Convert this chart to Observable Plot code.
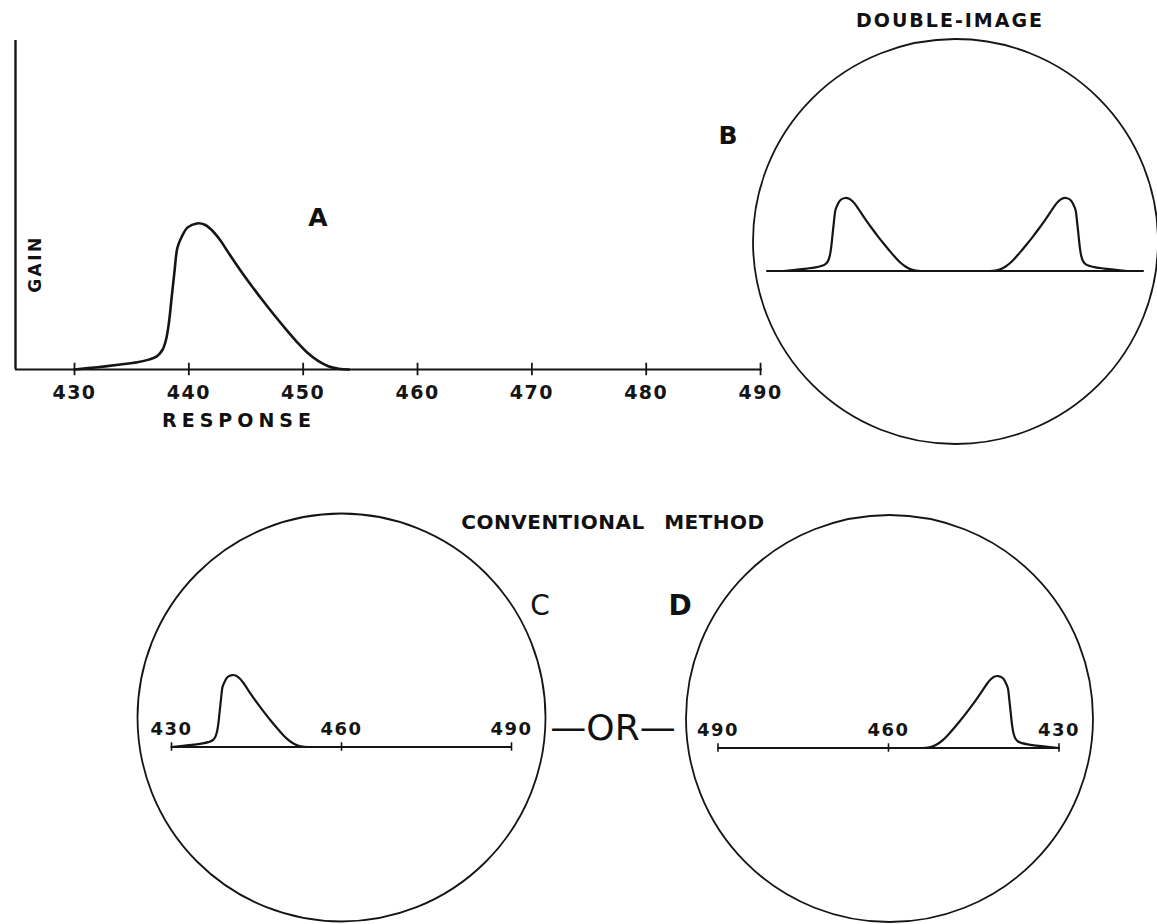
<!DOCTYPE html>
<html><head><meta charset="utf-8">
<script src="https://cdn.jsdelivr.net/npm/d3@7"></script>
<script src="https://cdn.jsdelivr.net/npm/@observablehq/plot@0.6"></script>
<style>
html,body{margin:0;padding:0;background:#fff;overflow:hidden}
#fig{position:relative;width:1157px;height:924px;background:#fff}
#fig svg{position:absolute;overflow:visible;background:transparent}
.lbl{position:absolute;transform:translate(-50%,-50%);font-family:"DejaVu Sans",sans-serif;color:#111;white-space:nowrap;line-height:1}
.ticklbl text{letter-spacing:1.5px}
</style></head><body><div id="fig"></div>
<script>
// ---- DATA ----
// Response spectrum (wavelength vs gain, arbitrary gain units)
const wavelength = [430, 432, 434, 435.5, 436.5, 437.2, 437.7, 438.0, 438.25, 438.5, 438.75, 439.0, 439.4, 439.9, 440.7, 441.4, 442.0, 442.7, 443.5, 444.5, 445.5, 446.5, 447.5, 448.5, 449.5, 450.4, 451.3, 452.2, 453.1, 454];
const gain       = [0,   0.7, 1.5, 2.2,   3.0,   4.0,   6.0,   9.0,   14,    22,    30,     37,    40.5,  43.2,  44.4,  44.0,  42.4,  39.5,  35.3,  30.2,  25.4,  20.8,  16.4,  12.2,  8.2,   5.0,   2.6,   1.0,   0.25,  0];
const axisTicksA = [430, 440, 450, 460, 470, 480, 490];
const scaleTicksCD = [430, 460, 490];
const baselineSpanB = [427, 493];
const mirrorCenterB = 460;
const labels = {
  title: "DOUBLE-IMAGE", method: "CONVENTIONAL METHOD", or: "\u2014OR\u2014",
  xLabel: "RESPONSE", yLabel: "GAIN", A: "A", B: "B", C: "C", D: "D"
};

// ---- BUILD ----
const spectrum = wavelength.map((w, i) => ({w, g: gain[i]}));
const fig = document.getElementById("fig");
const ink = "#151515";
const font = "DejaVu Sans";
const curve = "catmull-rom";

function place(svg, left, top) {
  svg.style.left = left + "px";
  svg.style.top = top + "px";
  fig.appendChild(svg);
}

// Panel A
const xDomainA = [424.84, 490.17];
const plotA = Plot.plot({
  width: 780, height: 440,
  marginLeft: 15, marginRight: 18, marginTop: 40, marginBottom: 71,
  x: {domain: xDomainA, axis: null},
  y: {domain: [0, 100], axis: null},
  className: "ticklbl",
  marks: [
    Plot.ruleY([0], {stroke: ink, strokeWidth: 2}),
    Plot.ruleX([xDomainA[0]], {stroke: ink, strokeWidth: 2.4}),
    Plot.ruleX(axisTicksA, {x: d => d, y1: -1.9, y2: 1.9, stroke: ink, strokeWidth: 1.8}),
    Plot.text(axisTicksA, {x: d => d, y: 0, dy: 23, text: d => String(d), fontSize: 19, fontWeight: "bold", fontFamily: font, fill: ink}),
    Plot.line(spectrum, {x: "w", y: "g", curve, stroke: ink, strokeWidth: 2.6})
  ]
});
place(plotA, 0, 0);

// Panel B (double image)
const pxB = 5.72, gyB = 1.644;
const plotB = Plot.plot({
  width: 410, height: 410, margin: 0,
  x: {domain: [430, 490], range: [205 - 30 * pxB, 205 + 30 * pxB], axis: null},
  y: {domain: [0, 50], range: [234.5, 234.5 - 50 * gyB], axis: null},
  marks: [
    Plot.dot([0], {frameAnchor: "middle", r: 202.5, stroke: ink, strokeWidth: 1.8, fill: "none"}),
    Plot.ruleY([0], {x1: baselineSpanB[0], x2: baselineSpanB[1], stroke: ink, strokeWidth: 1.8}),
    Plot.line(spectrum, {x: "w", y: "g", curve, stroke: ink, strokeWidth: 2.2}),
    Plot.line(spectrum, {x: d => 2 * mirrorCenterB - d.w, y: "g", curve, stroke: ink, strokeWidth: 2.2})
  ]
});
place(plotB, 749.5, 35.5);

// Panels C and D (conventional method)
function scopePanel(range, r, baseY) {
  return Plot.plot({
    width: 412, height: 412, margin: 0,
    className: "ticklbl",
    x: {domain: [430, 490], range, axis: null},
    y: {domain: [0, 50], range: [baseY, baseY - 50 * 1.62], axis: null},
    marks: [
      Plot.dot([0], {frameAnchor: "middle", r, stroke: ink, strokeWidth: 1.8, fill: "none"}),
      Plot.ruleY([0], {x1: d3.min(scaleTicksCD), x2: d3.max(scaleTicksCD), stroke: ink, strokeWidth: 2}),
      Plot.ruleX(scaleTicksCD, {x: d => d, y1: -2.6, y2: 2.6, stroke: ink, strokeWidth: 1.6}),
      Plot.text(scaleTicksCD, {x: d => d, y: 0, dy: -17.5, text: d => String(d), fontSize: 18, fontWeight: "bold", fontFamily: font, fill: ink}),
      Plot.line(spectrum, {x: "w", y: "g", curve, stroke: ink, strokeWidth: 2.2})
    ]
  });
}
place(scopePanel([171 - 135, 511 - 135], 204, 746 - 510.5), 135, 510.5);
place(scopePanel([1058 - 682.5, 717 - 682.5], 203.5, 747 - 511.5), 682.5, 511.5);

// Text labels
function label(text, x, y, size, weight, extra) {
  const d = document.createElement("div");
  d.className = "lbl";
  d.textContent = text;
  d.style.left = x + "px";
  d.style.top = y + "px";
  d.style.fontSize = size + "px";
  d.style.fontWeight = weight;
  if (extra) Object.assign(d.style, extra);
  fig.appendChild(d);
}
label(labels.title, 950, 20, 19, "bold", {letterSpacing: "2px"});
label(labels.A, 318, 217, 25, "bold");
label(labels.B, 728, 135, 25, "bold");
label(labels.yLabel, 35, 264, 17, "bold", {letterSpacing: "2.5px", transform: "translate(-50%,-50%) rotate(-90deg)"});
label(labels.xLabel, 239, 420, 19, "bold", {letterSpacing: "5px"});
label(labels.method, 613, 522, 20, "bold", {letterSpacing: "0.5px", wordSpacing: "12px"});
label(labels.C, 540, 606, 28, "normal");
label(labels.D, 680, 606, 28, "bold");
label(labels.or, 613, 728, 36, "normal");
</script></body></html>
